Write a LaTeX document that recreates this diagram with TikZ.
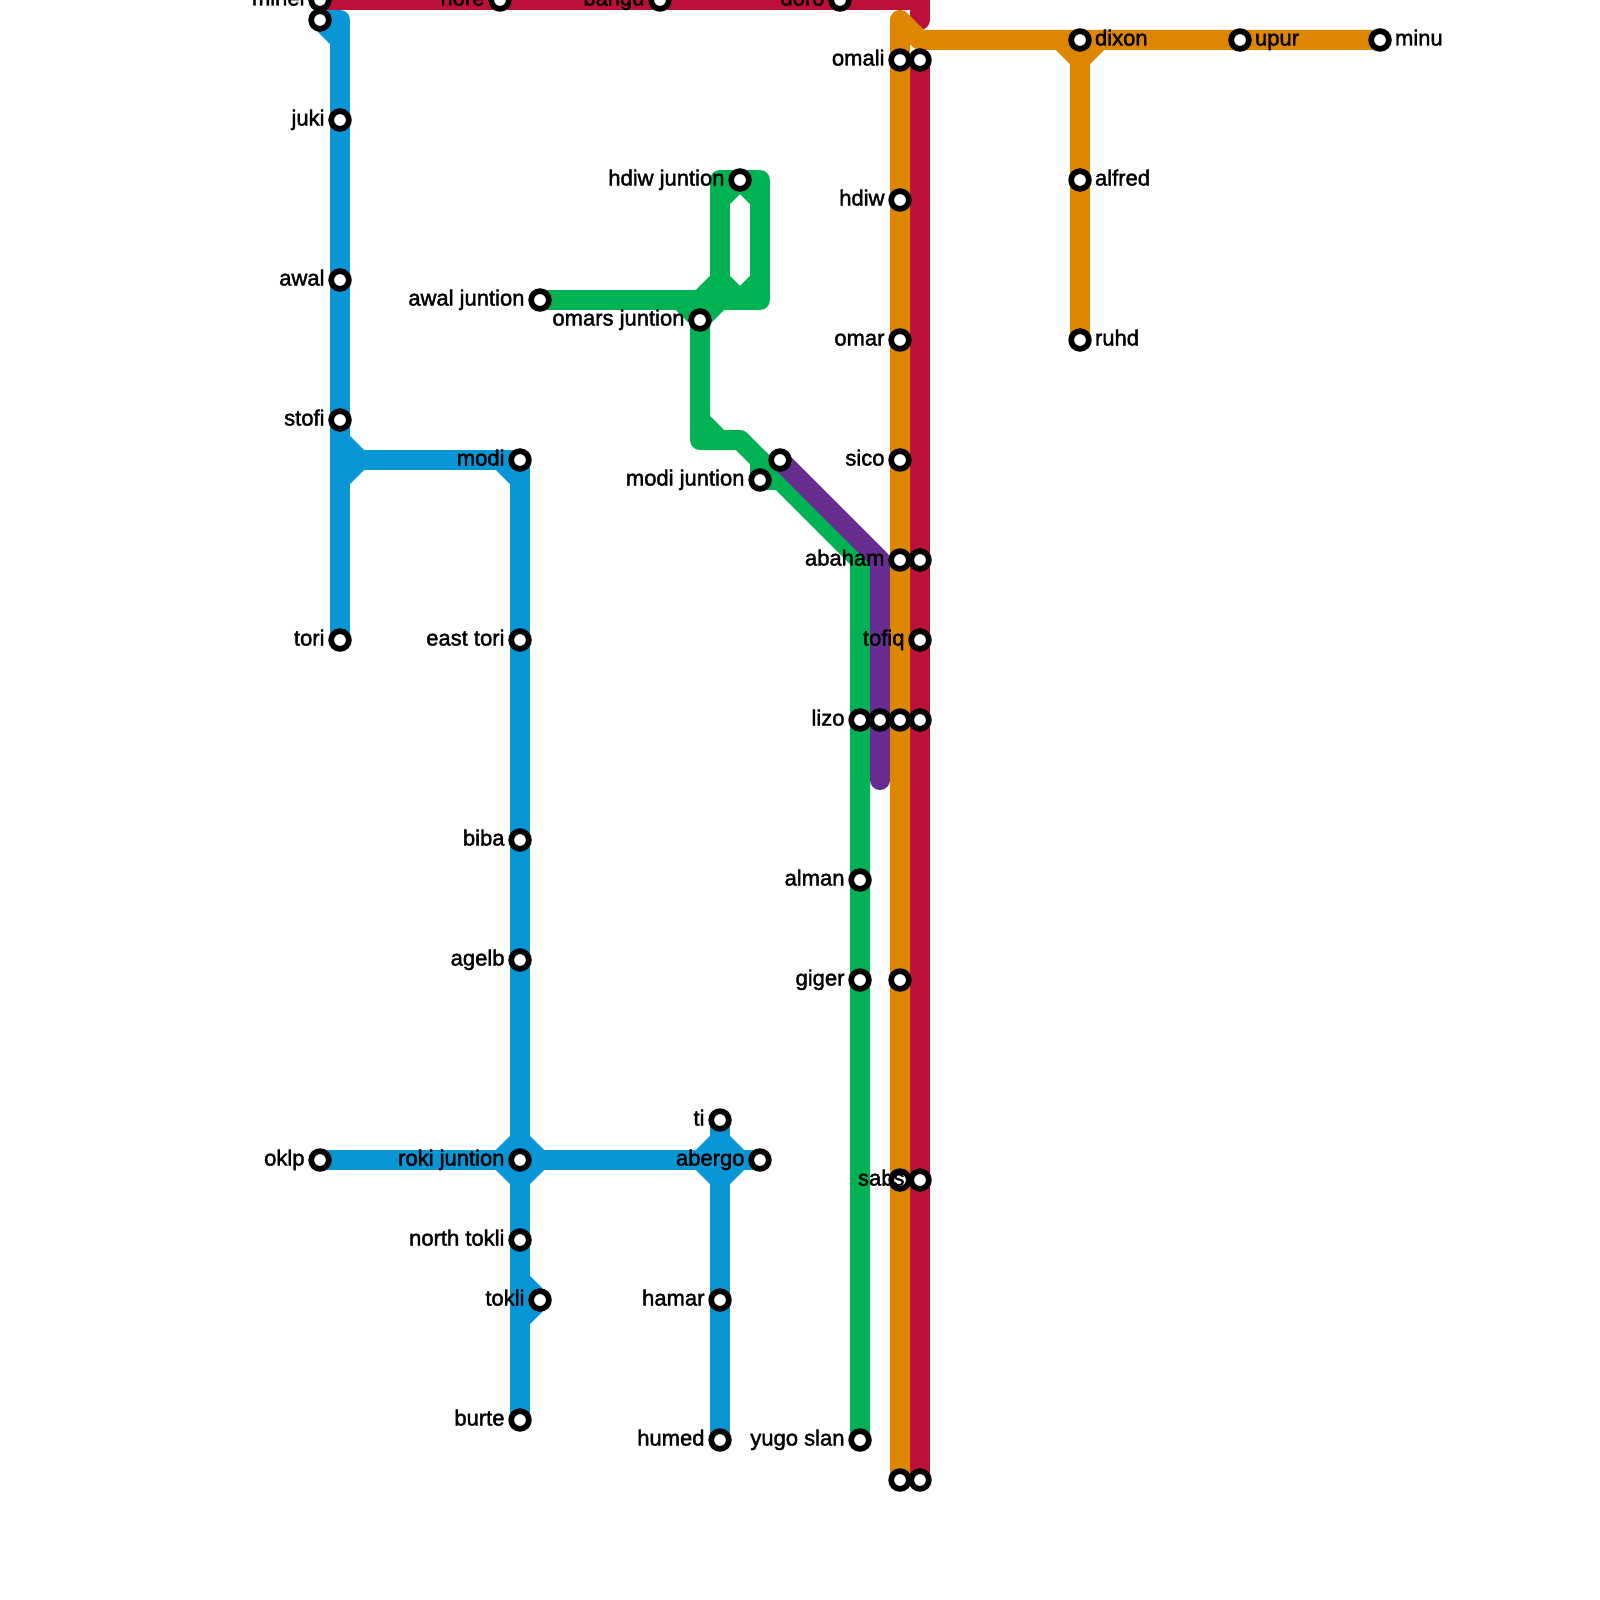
\documentclass[tikz,border=0pt]{standalone}
\usepackage{fontspec}
\setmainfont[FakeBold=1.8]{Liberation Sans}
\usetikzlibrary{calc}
\pgfdeclarelayer{lines}
\pgfsetlayers{lines,main}
\definecolor{cblue}{HTML}{0896D7}
\definecolor{cred}{HTML}{BD1038}
\definecolor{corange}{HTML}{DF8600}
\definecolor{cgreen}{HTML}{00B251}
\definecolor{cpurple}{HTML}{662C90}
\tikzset{
  stn/.style={circle,draw=black,fill=white,line width=5.7pt,minimum size=17.7pt,inner sep=0pt,outer sep=0pt},
  route/.style={line width=20pt,line join=round,line cap=round},
  lbl/.style={font=\fontsize{22}{26}\selectfont,text=black,inner sep=0pt,outer sep=0pt},
}
\newcommand{\stnAt}[3]{\node[stn] (#1) at (#2,#3) {};}
\newcommand{\lblL}[2]{\node[lbl,anchor=base east] (t-#1) at ([shift={(-15.5,5.5)}]#1.center) {#2};}
\newcommand{\lblR}[2]{\node[lbl,anchor=base west] (t-#1) at ([shift={(15,5.5)}]#1.center) {#2};}
\begin{document}
\begin{tikzpicture}[x=1pt,y=-1pt]
\useasboundingbox (0,0) rectangle (1600,1600);
% stations: blue
\stnAt{minei}{320}{0}\stnAt{bstart}{320}{20}\stnAt{juki}{340}{120}\stnAt{awal}{340}{280}\stnAt{stofi}{340}{420}\stnAt{tori}{340}{640}
\stnAt{modi}{520}{460}\stnAt{easttori}{520}{640}\stnAt{biba}{520}{840}\stnAt{agelb}{520}{960}\stnAt{roki}{520}{1160}\stnAt{oklp}{320}{1160}
\stnAt{northtokli}{520}{1240}\stnAt{tokli}{540}{1300}\stnAt{burte}{520}{1420}
\stnAt{ti}{720}{1120}\stnAt{abergo}{760}{1160}\stnAt{hamar}{720}{1300}\stnAt{humed}{720}{1440}
% stations: red top
\stnAt{nore}{500}{0}\stnAt{bangu}{660}{0}\stnAt{doro}{840}{0}
% stations: green
\stnAt{awalj}{540}{300}\stnAt{omarsj}{700}{320}\stnAt{hdiwj}{740}{180}\stnAt{modij}{760}{480}
\stnAt{lizo}{860}{720}\stnAt{alman}{860}{880}\stnAt{giger}{860}{980}\stnAt{yugo}{860}{1440}
% stations: purple
\stnAt{pstart}{780}{460}\stnAt{plizo}{880}{720}
% stations: orange
\stnAt{omali}{900}{60}\stnAt{hdiw}{900}{200}\stnAt{omar}{900}{340}\stnAt{sico}{900}{460}\stnAt{abaham}{900}{560}\stnAt{olizo}{900}{720}
\stnAt{ogiger}{900}{980}\stnAt{osabs}{900}{1180}\stnAt{oend}{900}{1480}
\stnAt{dixon}{1080}{40}\stnAt{upur}{1240}{40}\stnAt{minu}{1380}{40}\stnAt{alfred}{1080}{180}\stnAt{ruhd}{1080}{340}
% stations: red
\stnAt{romali}{920}{60}\stnAt{rabaham}{920}{560}\stnAt{tofiq}{920}{640}\stnAt{rlizo}{920}{720}\stnAt{sabs}{920}{1180}\stnAt{rend}{920}{1480}
% junction points
\foreach \n/\x/\y in {
 bc1/340/20, bc2/340/40, bs1/340/440, bs2/360/460, bs3/340/480, bm1/500/460, bm2/520/480,
 rk1/500/1160, rk2/520/1140, rk3/540/1160, rk4/520/1180,
 ab1/700/1160, ab2/720/1140, ab3/740/1160, ab4/720/1180,
 tk1/520/1280, tk2/520/1320,
 gw1/720/300, gw2/760/300, gw3/760/200, gw4/720/200, gw5/740/300, gw6/760/280, gw7/720/280,
 gw8/700/300, gw9/760/180, gw10/720/180, gw11/680/300,
 gd1/700/420, gd2/700/440, gd3/720/440, gd4/740/440, gd5/860/560,
 gm1/760/460, gm2/780/480,
 pc1/880/560, pc2/880/780,
 rc1/920/0, rc2/920/20,
 oc1/900/20, oc2/920/40, od1/1060/40, od2/1080/60, od3/1100/40}
 {\coordinate (\n) at (\x,\y);}
\begin{pgfonlayer}{lines}
\fill[white] (0,0) rectangle (1600,1600);
% blue
\draw[route,cblue] (bstart.center) -- (bc1) -- (tori.center);
\draw[route,cblue] (bstart.center) -- (bc2);
\draw[route,cblue] (bs1) -- (bs2) -- (bs3);
\draw[route,cblue] (bs2) -- (modi.center) -- (burte.center);
\draw[route,cblue] (bm1) -- (bm2);
\draw[route,cblue] (oklp.center) -- (abergo.center);
\draw[route,cblue] (rk1) -- (rk2) -- (rk3) -- (rk4) -- cycle;
\draw[route,cblue] (ab1) -- (ab2) -- (ab3) -- (ab4) -- cycle;
\draw[route,cblue] (ti.center) -- (humed.center);
\draw[route,cblue] (tk1) -- (tokli.center) -- (tk2);
% green
\draw[route,cgreen] (awalj.center) -- (gw2) -- (gw9) -- (gw10) -- (gw1);
\draw[route,cgreen] (gw4) -- (hdiwj.center) -- (gw3);
\draw[route,cgreen] (gw7) -- (gw5) -- (gw6);
\draw[route,cgreen] (gw7) -- (gw8);
\draw[route,cgreen] (gw11) -- (omarsj.center) -- (gw1);
\draw[route,cgreen] (omarsj.center) -- (gd2) -- (gd4) -- (gd5) -- (yugo.center);
\draw[route,cgreen] (gd1) -- (gd3);
\draw[route,cgreen] (gm1) -- (modij.center) -- (gm2);
% purple
\draw[route,cpurple] (pstart.center) -- (pc1) -- (pc2);
% red
\draw[route,cred] (minei.center) -- (rc1) -- (rc2);
\draw[route,cred] (romali.center) -- (rend.center);
% orange
\draw[route,corange] (oend.center) -- (oc1) -- (oc2) -- (minu.center);
\draw[route,corange] (od1) -- (od2) -- (od3);
\draw[route,corange] (dixon.center) -- (ruhd.center);
\end{pgfonlayer}
% labels
\lblL{minei}{minei}\lblL{nore}{nore}\lblL{bangu}{bangu}\lblL{doro}{doro}
\lblL{juki}{juki}\lblL{awal}{awal}\lblL{stofi}{stofi}\lblL{tori}{tori}
\lblL{modi}{modi}\lblL{easttori}{east tori}\lblL{biba}{biba}\lblL{agelb}{agelb}\lblL{roki}{roki juntion}\lblL{oklp}{oklp}
\lblL{northtokli}{north tokli}\lblL{tokli}{tokli}\lblL{burte}{burte}
\lblL{ti}{ti}\lblL{abergo}{abergo}\lblL{hamar}{hamar}\lblL{humed}{humed}
\lblL{awalj}{awal juntion}\lblL{omarsj}{omars juntion}\lblL{hdiwj}{hdiw juntion}\lblL{modij}{modi juntion}
\lblL{lizo}{lizo}\lblL{alman}{alman}\lblL{giger}{giger}\lblL{yugo}{yugo slan}
\lblL{omali}{omali}\lblL{hdiw}{hdiw}\lblL{omar}{omar}\lblL{sico}{sico}\lblL{abaham}{abaham}
\lblL{tofiq}{tofiq}\lblL{sabs}{sabs}
\lblR{dixon}{dixon}\lblR{upur}{upur}\lblR{minu}{minu}\lblR{alfred}{alfred}\lblR{ruhd}{ruhd}
\end{tikzpicture}
\end{document}
